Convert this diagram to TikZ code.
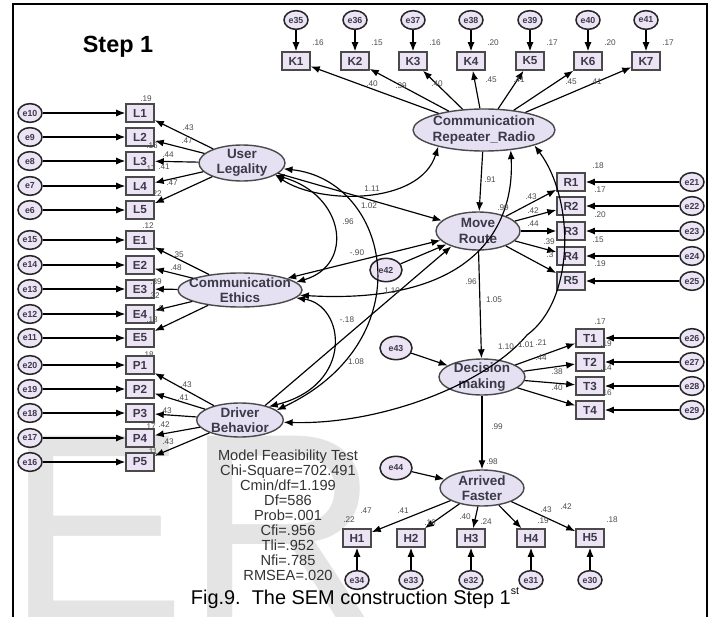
\documentclass[tikz,border=0pt]{standalone}
\usepackage{fontspec}
\setmainfont{Liberation Sans}
\usetikzlibrary{shapes.geometric,arrows.meta}

\definecolor{boxfill}{HTML}{ECE4F5}
\definecolor{ovalfill}{HTML}{E6E0F3}
\definecolor{edgegray}{HTML}{4A4A4A}
\definecolor{inkgray}{HTML}{3A3A48}
\definecolor{markgray}{HTML}{E4E4E4}

\begin{document}
\begin{tikzpicture}[x=0.03cm,y=-0.03cm,
    >={Latex[length=2.7mm,width=2.1mm]},
    obs/.style={draw=edgegray,line width=1.3pt,fill=boxfill,minimum width=0.84cm,
      minimum height=0.54cm,inner sep=0pt,text=inkgray,font=\fontsize{10}{11}\selectfont\bfseries},
    err/.style={ellipse,draw=black!85,line width=1.3pt,fill=boxfill,minimum width=0.72cm,
      minimum height=0.56cm,inner sep=0pt,text=inkgray,font=\fontsize{7.5}{8}\selectfont\bfseries},
    lat/.style={ellipse,draw=edgegray,line width=1.2pt,fill=ovalfill,inner sep=0pt},
    lattext/.style={align=center,inner sep=0pt,text=inkgray,font=\fontsize{11.5}{13}\selectfont\bfseries},
    val/.style={inner sep=0pt,text=black!70,font=\fontsize{7}{8}\selectfont},
    reg/.style={->,line width=1pt},
    covar/.style={<->,line width=1pt}]
    \useasboundingbox (0,0) rectangle (714,617);
    \clip (0,0) rectangle (714,617);

    % marca de agua e moldura
    \node[anchor=base west,inner sep=0pt,text=markgray,font=\fontsize{230}{230}\selectfont] (mark) at (6,621) {ER};
    \draw[line width=1.4pt] (13,617) -- (13,4) -- (707,4) -- (707,617);
    \node[font=\fontsize{20}{22}\selectfont\bfseries] (title) at (118,47) {Step 1};

    % variaveis latentes
    \node[lat,minimum width=4.26cm,minimum height=1.26cm] (CRR) at (484,130) {};
    \node[lattext] at (CRR) {Communication\\Repeater\_Radio};
    \node[lat,minimum width=2.58cm,minimum height=1.08cm] (UL) at (242,163) {};
    \node[lattext] at (UL) {User\\Legality};
    \node[lat,minimum width=3.72cm,minimum height=1.02cm] (CE) at (240,290) {};
    \node[lattext] at (CE) {Communication\\Ethics};
    \node[lat,minimum width=2.6cm,minimum height=1.02cm] (DB) at (240,420) {};
    \node[lattext] at (DB) {Driver\\Behavior};
    \node[lat,minimum width=2.52cm,minimum height=1.14cm] (MR) at (478,231) {};
    \node[lattext] at (MR) {Move\\Route};
    \node[lat,minimum width=2.58cm,minimum height=1.08cm] (DM) at (482,377) {};
    \node[lattext] at (DM) {Decision\\making};
    \node[lat,minimum width=2.52cm,minimum height=1.08cm] (AF) at (482,488) {};
    \node[lattext] at (AF) {Arrived\\Faster};

    % erros das latentes
    \node[err,minimum width=0.96cm,minimum height=0.7cm] (e42) at (386,270) {e42};
    \node[err,minimum width=0.96cm,minimum height=0.7cm] (e43) at (396,348) {e43};
    \node[err,minimum width=0.96cm,minimum height=0.7cm] (e44) at (396,468) {e44};

    % indicadores
    \foreach \n/\x/\r/\e in {K1/296/.16/35,K2/355/.15/36,K3/413/.16/37,K4/471/.20/38,K5/530/.17/39,K6/588/.20/40,K7/646/.17/41}{
      \node[obs] (\n) at (\x,61) {\n};
      \node[err] (e\e) at (\x,20) {e\e};
      \draw[reg] (e\e) -- (\n);
      \draw[reg] (CRR) -- (\n);
      \node[val] at (\x+22,43) {\r};
    }
    \foreach \n/\y/\e in {L1/113/10,L2/137/9,L3/161/8,L4/186/7,L5/210/6}{
      \node[obs] (\n) at (140,\y) {\n};
      \node[err] (e\e) at (30,\y) {e\e};
      \draw[reg] (e\e) -- (\n);
      \draw[reg] (UL) -- (\n);
    }
    \foreach \n/\y/\e in {E1/240/15,E2/265/14,E3/289/13,E4/314/12,E5/338/11}{
      \node[obs] (\n) at (140,\y) {\n};
      \node[err] (e\e) at (30,\y) {e\e};
      \draw[reg] (e\e) -- (\n);
      \draw[reg] (CE) -- (\n);
    }
    \foreach \n/\y/\e in {P1/365/20,P2/389/19,P3/413/18,P4/438/17,P5/462/16}{
      \node[obs] (\n) at (140,\y) {\n};
      \node[err] (e\e) at (30,\y) {e\e};
      \draw[reg] (e\e) -- (\n);
      \draw[reg] (DB) -- (\n);
    }
    \foreach \n/\y/\e in {R1/182/21,R2/206/22,R3/231/23,R4/256/24,R5/281/25}{
      \node[obs] (\n) at (571,\y) {\n};
      \node[err] (e\e) at (692,\y) {e\e};
      \draw[reg] (e\e) -- (\n);
      \draw[reg] (MR) -- (\n);
    }
    \foreach \n/\y/\e in {T1/338/26,T2/362/27,T3/386/28,T4/410/29}{
      \node[obs] (\n) at (590,\y) {\n};
      \node[err] (e\e) at (692,\y) {e\e};
      \draw[reg] (e\e) -- (\n);
      \draw[reg] (DM) -- (\n);
    }
    \foreach \n/\x/\e in {H1/357/34,H2/411/33,H3/471/32,H4/531/31,H5/590/30}{
      \node[obs] (\n) at (\x,538) {\n};
      \node[err] (e\e) at (\x,580) {e\e};
      \draw[reg] (e\e) -- (\n);
      \draw[reg] (AF) -- (\n);
    }

    % caminhos estruturais
    \draw[reg] (CRR) -- (MR);
    \draw[reg] (MR) -- (DM);
    \draw[reg] (DM) -- (AF);
    \draw[reg] (UL) -- (MR);
    \draw[reg] (DB.30) -- (MR.-150);
    \draw[reg] (e42) -- (MR);
    \draw[reg] (e43) -- (DM);
    \draw[reg] (e44) -- (AF);
    \draw[covar] (MR) -- (CE);

    % covariancias
    \draw[covar] (UL.-20) .. controls (320,205) and (420,205) .. (CRR.-160);
    \draw[covar] (UL.-20) .. controls (345,195) and (355,265) .. (CE.8);
    \draw[covar] (UL.-8) .. controls (390,180) and (425,340) .. (DB.15);
    \draw[covar] (CE.-8) .. controls (345,305) and (355,385) .. (DB.25);
    \draw[covar] (CE.-5) .. controls (470,305) and (515,230) .. (CRR.-37);
    \draw[covar] (CRR.-17) .. controls (575,200) and (575,300) .. (527,335)
      .. controls (485,385) and (380,425) .. (DB.-3);

    % estimativas
    \foreach \t/\x/\y in {.40/372/84,.39/401/86,.40/437/84,.45/491/80,.41/519/80,.45/571/82,.41/596/82,
      .19/146/99,.43/188/128,.47/187/141,.16/152/146,.44/168/155,.17/150/169,.41/164/167,.47/172/183,.22/156/194,.12/148/226,
      .35/178/255,.48/176/268,.39/156/282,.32/154/296,.2/160/309,.13/152/320,.18/148/355,
      .43/186/385,.41/183/398,.43/166/411,.17/150/427,.42/164/425,.43/168/442,.11/152/452,
      .18/598/166,.17/600/190,.20/600/215,.15/598/240,.19/600/264,.43/531/197,.42/533/211,.44/533/224,.39/549/242,.3/550/255,
      .17/600/322,.19/606/344,.14/606/368,.16/606/393,1.10/506/347,1.01/526/345,.21/541/343,.44/541/358,.38/557/372,.40/557/388,
      .22/349/520,.47/366/511,.41/403/511,.16/430/523,.40/465/517,.24/486/522,.43/546/510,.19/543/521,.42/566/507,.18/612/520,.98/492/462,
      .91/490/180,1.11/372/189,1.02/369/206,.96/348/222,-.90/357/253,.99/503/208,1.10/392/291,.96/471/282,1.05/494/300,-.18/347/320,1.08/356/362,.99/497/427}{
      \node[val] at (\x,\y) {\t};
    }

    % teste do modelo e legenda
    \node[anchor=north,align=center,text=black!80,font=\fontsize{12.5}{12.8}\selectfont] (fit) at (288,446)
      {Model Feasibility Test\\Chi-Square=702.491\\Cmin/df=1.199\\Df=586\\Prob=.001\\Cfi=.956\\Tli=.952\\Nfi=.785\\RMSEA=.020};
    \node[font=\fontsize{17}{18}\selectfont] (caption) at (355,598)
      {Fig.9.\ \ The SEM construction Step 1\raisebox{0.9ex}{\fontsize{9}{9}\selectfont st}};
\end{tikzpicture}
\end{document}
